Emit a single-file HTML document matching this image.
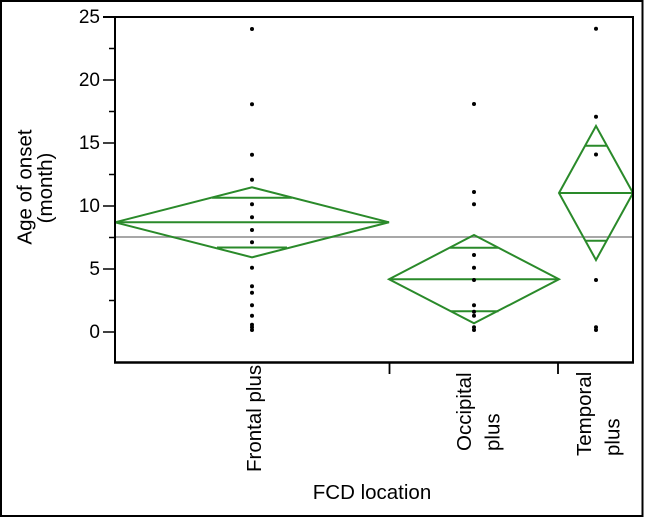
<!DOCTYPE html>
<html>
<head>
<meta charset="utf-8">
<style>
html,body{margin:0;padding:0;background:#fff;}
svg{display:block;}
text{font-family:"Liberation Sans",Arial,Helvetica,sans-serif;fill:#000;}
</style>
</head>
<body>
<svg width="646" height="518" viewBox="0 0 646 518" xmlns="http://www.w3.org/2000/svg">
  <!-- outer border -->
  <rect x="1" y="1" width="641.5" height="515" fill="#fff" stroke="#000" stroke-width="2"/>

  <!-- grand mean line -->
  <line x1="115" y1="237" x2="633" y2="237" stroke="#8a8a8a" stroke-width="1.6"/>

  <!-- Frontal diamond -->
  <g fill="none" stroke="#2a8a2a" stroke-width="2">
    <polygon points="115,222.3 252,187.3 389,222.3 252,257.3"/>
    <line x1="115" y1="222.3" x2="389" y2="222.3"/>
    <line x1="212" y1="197.7" x2="292" y2="197.7"/>
    <line x1="217" y1="247.5" x2="287" y2="247.5"/>
    <!-- Occipital -->
    <polygon points="389,279.3 474,235 559,279.3 474,323.3"/>
    <line x1="389" y1="279.3" x2="559" y2="279.3"/>
    <line x1="450" y1="247.7" x2="498" y2="247.7"/>
    <line x1="451" y1="311.3" x2="498.5" y2="311.3"/>
    <!-- Temporal -->
    <polygon points="559,193 596,126 633,193 596,260"/>
    <line x1="559" y1="193" x2="633" y2="193"/>
    <line x1="585" y1="145.7" x2="607" y2="145.7"/>
    <line x1="585" y1="240.7" x2="607" y2="240.7"/>
  </g>

  <!-- data points -->
  <g fill="#000">
    <circle cx="252" cy="29" r="2"/>
    <circle cx="252" cy="104.3" r="2"/>
    <circle cx="252" cy="154.7" r="2"/>
    <circle cx="252" cy="179.7" r="2"/>
    <circle cx="252" cy="204.3" r="2"/>
    <circle cx="252" cy="217.3" r="2"/>
    <circle cx="252" cy="230" r="2"/>
    <circle cx="252" cy="242.3" r="2"/>
    <circle cx="252" cy="267.7" r="2"/>
    <circle cx="252" cy="286.3" r="2"/>
    <circle cx="252" cy="292.7" r="2"/>
    <circle cx="252" cy="305.3" r="2"/>
    <circle cx="252" cy="315.7" r="2"/>
    <circle cx="252" cy="324.7" r="2"/>
    <circle cx="252" cy="327.3" r="2"/>
    <circle cx="252" cy="330" r="2"/>

    <circle cx="474" cy="104" r="2"/>
    <circle cx="474" cy="192" r="2"/>
    <circle cx="474" cy="204.3" r="2"/>
    <circle cx="474" cy="255" r="2"/>
    <circle cx="474" cy="267.7" r="2"/>
    <circle cx="474" cy="280" r="2"/>
    <circle cx="474" cy="305.3" r="2"/>
    <circle cx="474" cy="311.7" r="2"/>
    <circle cx="474" cy="315.7" r="2"/>
    <circle cx="474" cy="327.3" r="2"/>
    <circle cx="474" cy="330" r="2"/>

    <circle cx="596" cy="28.7" r="2"/>
    <circle cx="596" cy="116.7" r="2"/>
    <circle cx="596" cy="154.5" r="2"/>
    <circle cx="596" cy="280" r="2"/>
    <circle cx="596" cy="327.3" r="2"/>
    <circle cx="596" cy="330" r="2"/>
  </g>

  <!-- plot frame -->
  <g stroke="#000" fill="none">
    <line x1="103" y1="17" x2="634" y2="17" stroke-width="2"/>
    <line x1="633" y1="16" x2="633" y2="363" stroke-width="2"/>
    <line x1="115" y1="16" x2="115" y2="363" stroke-width="2"/>
    <line x1="114" y1="362.5" x2="634" y2="362.5" stroke-width="2.5"/>
    <!-- major y ticks -->
    <line x1="103" y1="80" x2="115" y2="80" stroke-width="1.5"/>
    <line x1="103" y1="143" x2="115" y2="143" stroke-width="1.5"/>
    <line x1="103" y1="206" x2="115" y2="206" stroke-width="1.5"/>
    <line x1="103" y1="269" x2="115" y2="269" stroke-width="1.5"/>
    <line x1="103" y1="332" x2="115" y2="332" stroke-width="1.5"/>
    <!-- minor y ticks -->
    <line x1="109" y1="48.5" x2="115" y2="48.5" stroke-width="1.5"/>
    <line x1="109" y1="111.5" x2="115" y2="111.5" stroke-width="1.5"/>
    <line x1="109" y1="174.5" x2="115" y2="174.5" stroke-width="1.5"/>
    <line x1="109" y1="237.5" x2="115" y2="237.5" stroke-width="1.5"/>
    <line x1="109" y1="300.5" x2="115" y2="300.5" stroke-width="1.5"/>
    <!-- x ticks -->
    <line x1="389.5" y1="362" x2="389.5" y2="374" stroke-width="1.8"/>
    <line x1="558" y1="362" x2="558" y2="374" stroke-width="1.8"/>
  </g>

  <!-- y tick labels -->
  <g font-size="19" text-anchor="end">
    <text x="100" y="23">25</text>
    <text x="100" y="86">20</text>
    <text x="100" y="149">15</text>
    <text x="100" y="212">10</text>
    <text x="100" y="275">5</text>
    <text x="100" y="338">0</text>
  </g>

  <!-- y axis title -->
  <g font-size="20.5" text-anchor="middle">
    <text transform="translate(31.5,187) rotate(-90)">Age of onset</text>
    <text transform="translate(52,188) rotate(-90)">(month)</text>
  </g>

  <!-- category labels -->
  <g font-size="20.5" text-anchor="start">
    <text transform="translate(261,472) rotate(-90)">Frontal plus</text>
    <text transform="translate(471,451) rotate(-90)">Occipital</text>
    <text transform="translate(499.5,451) rotate(-90)">plus</text>
    <text transform="translate(591,456) rotate(-90)">Temporal</text>
    <text transform="translate(619.5,456) rotate(-90)">plus</text>
  </g>

  <!-- x axis title -->
  <text x="372" y="499" font-size="20.5" text-anchor="middle">FCD location</text>
</svg>
</body>
</html>
